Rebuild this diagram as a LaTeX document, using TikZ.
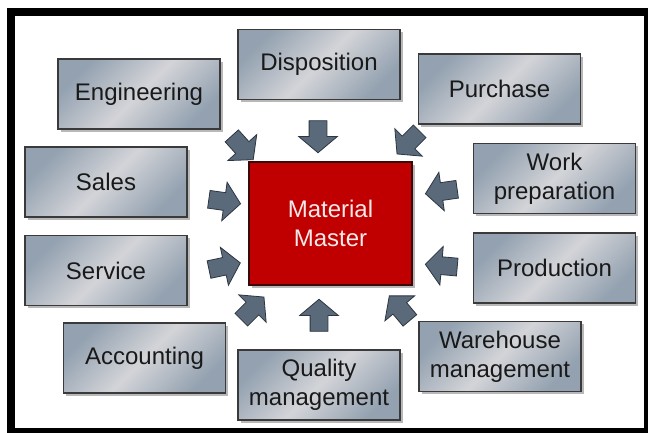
\documentclass[tikz,border=0pt]{standalone}
\usepackage{fontspec}
\setmainfont{Liberation Sans}
\usetikzlibrary{shapes.arrows,shadows}
\definecolor{boxblue}{HTML}{93A1B0}
\definecolor{boxlight}{HTML}{D3D4D8}
\definecolor{boxline}{HTML}{3A3A3A}
\definecolor{arrowfill}{HTML}{5A6A7B}
\definecolor{arrowline}{HTML}{2C3640}
\definecolor{mmred}{HTML}{C00000}
\definecolor{mmline}{HTML}{3A0808}
\definecolor{mmtext}{HTML}{F6EAEA}
\tikzset{
  unitbox/.style={rectangle, draw=boxline, line width=1.1pt,
    top color=boxblue, bottom color=boxblue, middle color=boxlight, shading angle=45,
    minimum width=162pt, minimum height=70pt, inner sep=2pt, align=center,
    text=black!90, font=\fontsize{24}{29}\selectfont,
    drop shadow={shadow xshift=2.5pt, shadow yshift=-2.5pt, fill=black, opacity=0.28}},
  masterbox/.style={rectangle, draw=mmline, line width=1.1pt, fill=mmred,
    minimum width=163pt, minimum height=123pt, align=center, text=mmtext,
    font=\fontsize{24}{29}\selectfont,
    drop shadow={shadow xshift=2.5pt, shadow yshift=-2.5pt, fill=black, opacity=0.28}},
  barrow/.style={single arrow, draw=arrowline, fill=arrowfill, line width=0.8pt,
    minimum height=32pt, single arrow head extend=10.5pt,
    single arrow tip angle=100, inner xsep=0pt, inner ysep=8.5pt}
}
\begin{document}
\begin{tikzpicture}[x=1pt,y=-1pt]
\useasboundingbox (0,0) rectangle (648,432);
\fill[white] (0,0) rectangle (648,432);
\draw[line width=8pt] (11,11.5) rectangle (648,432);

\node[unitbox] (eng) at (139,94) {Engineering};
\node[unitbox] (disp) at (319,64.5) {Disposition};
\node[unitbox] (purch) at (499.5,89) {Purchase};
\node[unitbox] (work) at (554.5,178.5) {Work\\preparation};
\node[unitbox] (prod) at (554.5,268) {Production};
\node[unitbox] (sales) at (106,182) {Sales};
\node[unitbox] (serv) at (106,270.5) {Service};
\node[unitbox] (acc) at (144.5,358) {Accounting};
\node[unitbox] (qual) at (319,385) {Quality\\management};
\node[unitbox] (ware) at (500,356.5) {Warehouse\\management};
\node[masterbox] (mm) at (330.5,223.5) {Material\\Master};

\node[barrow, rotate=-90] (a1) at (318,133) {};
\node[barrow, rotate=-48] (a2) at (240,145) {};
\node[barrow, rotate=-135] (a3) at (411,140) {};
\node[barrow, rotate=-8] (a4) at (221,201) {};
\node[barrow, rotate=12] (a5) at (221,267) {};
\node[barrow, rotate=45] (a6) at (250,311) {};
\node[barrow, rotate=90] (a7) at (319,319) {};
\node[barrow, rotate=130] (a8) at (402,311) {};
\node[barrow, rotate=-172] (a9) at (445,191) {};
\node[barrow, rotate=175] (a10) at (445,266) {};
\end{tikzpicture}
\end{document}
